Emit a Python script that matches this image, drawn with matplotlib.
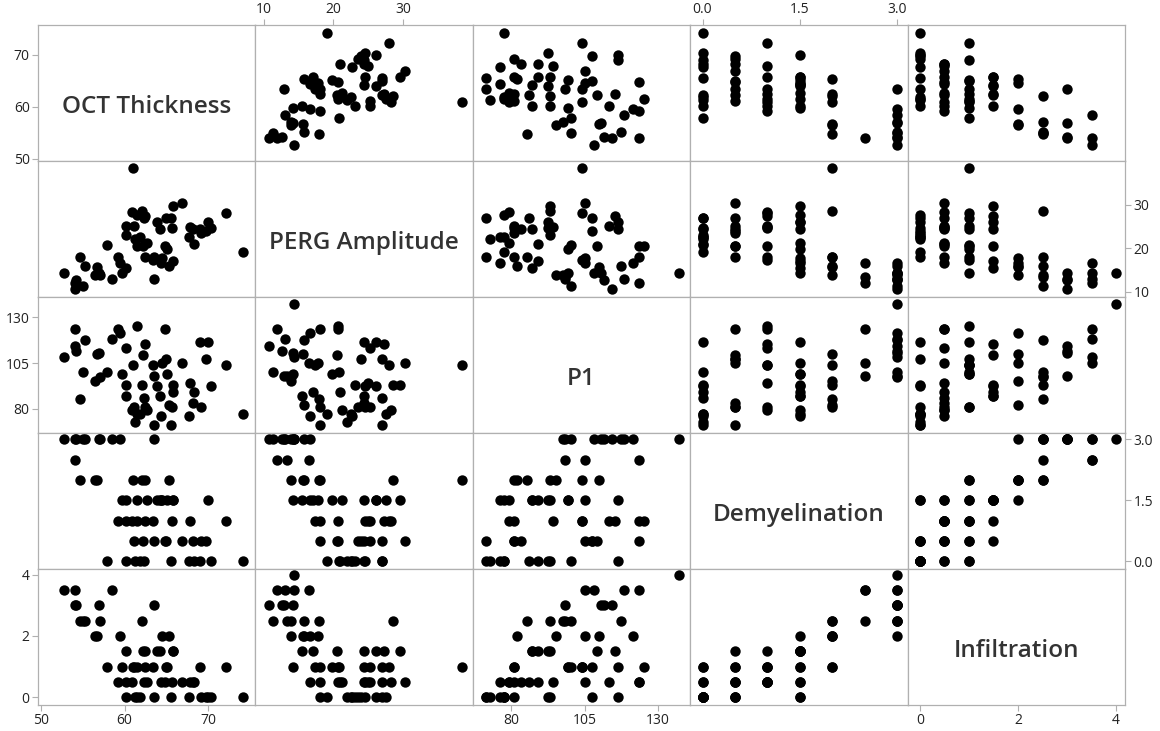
import numpy as np
import matplotlib.pyplot as plt

plt.rcParams['font.family'] = ['Open Sans', 'DejaVu Sans']

names = ["OCT Thickness", "PERG Amplitude", "P1", "Demyelination", "Infiltration"]

# one entry per subject; nan = value not recorded
oct_thickness = [52.7, 54.0, 54.0, 54.2, 54.7, 55.0, 55.2,
                 56.5, 56.7, 56.9, 57.0, 57.9, 58.5,
                 59.2, 59.5, 59.7, 60.2, 60.2, 60.2, 60.9, 61.0, 61.1, 61.5, 61.5, 61.3,
                 61.9, 62.1, 62.2, 62.3, 62.4, 62.5, 62.7, 63.4, 63.5, 63.5, 63.9, 64.2,
                 64.5, 64.8, 65.1, 65.3, 65.6, 65.7, 65.8, 64.4, 65.0, 65.8,
                 66.9, 67.7, 67.9, 68.2, 68.3, 69.0, 69.2, 69.8, 70.0, 70.4, 72.2, 74.2,
                 np.nan, np.nan, np.nan]
perg_amplitude = [14.3, 11.9, 10.7, 12.6, 17.9, 11.3, 15.8,
                  13.9, 15.6, 14.2, 13.9, 20.8, 13.0,
                  18.0, 16.6, 14.2, 25.2, 15.5, 23.1, 28.2, 38.4, 25.2, 27.6, 20.6, 22.0,
                  22.5, 28.5, 20.5, 26.9, 27.3, 18.0, 21.3, 17.4, 12.9, 18.0, 26.1, 24.4,
                  17.8, 20.6, 19.8, 15.8, 27.0, 24.6, 29.6, 16.6, 27.0, 17.0,
                  30.3, 22.6, 24.9, 24.4, 20.9, 24.4, 23.5, 24.0, 26.1, 24.6, 28.0, 19.1,
                  14.3, 16.5, 13.3]
p1 = [108.3, 123.4, 114.3, 111.7, 85.3, 100.4, 117.4,
      95.2, 109.9, 110.6, 97.5, 100.4, 118.3,
      123.5, 121.6, 99.2, 113.4, 87.1, 93.1, 79.3, 104.2, 81.1, 77.5, 125.4, 72.9,
      77.5, 93.1, 109.4, 86.2, 115.4, 81.1, 79.3, 104.2, 98.2, 71.3, 92.4, 87.1,
      105.2, 123.6, 99.2, 82.0, 71.3, 81.1, 93.1, 76.2, 107.4, 89.1,
      105.2, 76.2, 94.2, 83.3, 89.1, 116.3, 81.1, 107.4, 116.3, 92.4, 104.2, 77.5,
      137.3, 105.2, 98.2]
demyelination = [3, 2.5, 3, 3, 2, 3, 3,
                 2, 2, 3, 3, 0, 3,
                 1, 3, 1.5, 1, 1.5, 0, 1, 2, 0.5, 1.5, 1, 0,
                 0, 2, 0.5, 0, 1, 2, 1.5, 1, 3, 0.5, 1.5, 1.5,
                 1.5, 0.5, 1.5, 2, 0, 1, 1.5, 1.5, 0.5, 1.5,
                 0.5, 0, 1, 0.5, 0, 0, 0.5, 0.5, 1.5, 0, 1, 0,
                 3, 2.5, 2.5]
infiltration = [3.5, 3.5, 3, 3, 2.5, 2.5, 2.5,
                2, 2, 3, 2.5, 1, 3.5,
                0.5, 2, 1, 0.5, 1.5, 0, 0.5, 1, 1, 0, 1, 0,
                0, 2.5, 1.5, 0.5, 1.5, 1, 0.5, 1, 3, 0, 1.5, 1.5,
                2, 0.5, 1, 2, 0, 0.5, 1.5, 0.5, 1, 1.5,
                0.5, 0, 0.5, 0.5, 0.5, 1, 0, 0, 0, 0, 1, 0,
                4, 3.5, 2.5]

columns = [oct_thickness, perg_amplitude, p1, demyelination, infiltration]
limits = [(49.6, 75.7), (8.8, 40.0), (66.9, 141.0), (-0.19, 3.16), (-0.25, 4.18)]
ticks = [[50, 60, 70], [10, 20, 30], [80, 105, 130], [0, 1.5, 3], [0, 2, 4]]
labels = [["50", "60", "70"], ["10", "20", "30"], ["80", "105", "130"],
          ["0.0", "1.5", "3.0"], ["0", "2", "4"]]

edge = '#b0b0b0'
n = len(names)
fig, axes = plt.subplots(n, n, figsize=(11.6, 7.31), dpi=100)
fig.subplots_adjust(left=38/1160, right=1125/1160, top=1-25/731, bottom=1-705/731,
                    wspace=0, hspace=0)

for i in range(n):
    for j in range(n):
        ax = axes[i, j]
        if i == j:
            ax.text(0.5, 0.4, names[i], transform=ax.transAxes, ha='center', va='center',
                    fontsize=17.5, fontweight='semibold', color='#333333')
        else:
            ax.scatter(columns[j], columns[i], s=56, c='black', linewidths=0, zorder=3)
        ax.set_xlim(limits[j])
        ax.set_ylim(limits[i])
        ax.set_xticks([])
        ax.set_yticks([])
        for sp in ax.spines.values():
            sp.set_color(edge)
            sp.set_linewidth(0.9)
        ax.tick_params(length=4, width=0.8, color=edge, labelsize=10,
                       labelcolor='#222222', pad=2)
        # alternating axis labels around the matrix
        if i == n - 1 and j % 2 == 0:
            ax.set_xticks(ticks[j], labels[j])
        if i == 0 and j % 2 == 1:
            ax.set_xticks(ticks[j], labels[j])
            ax.xaxis.tick_top()
        if j == 0 and i % 2 == 0:
            ax.set_yticks(ticks[i], labels[i])
        if j == n - 1 and i % 2 == 1:
            ax.set_yticks(ticks[i], labels[i])
            ax.yaxis.tick_right()

fig.savefig('out.png', dpi=100)
